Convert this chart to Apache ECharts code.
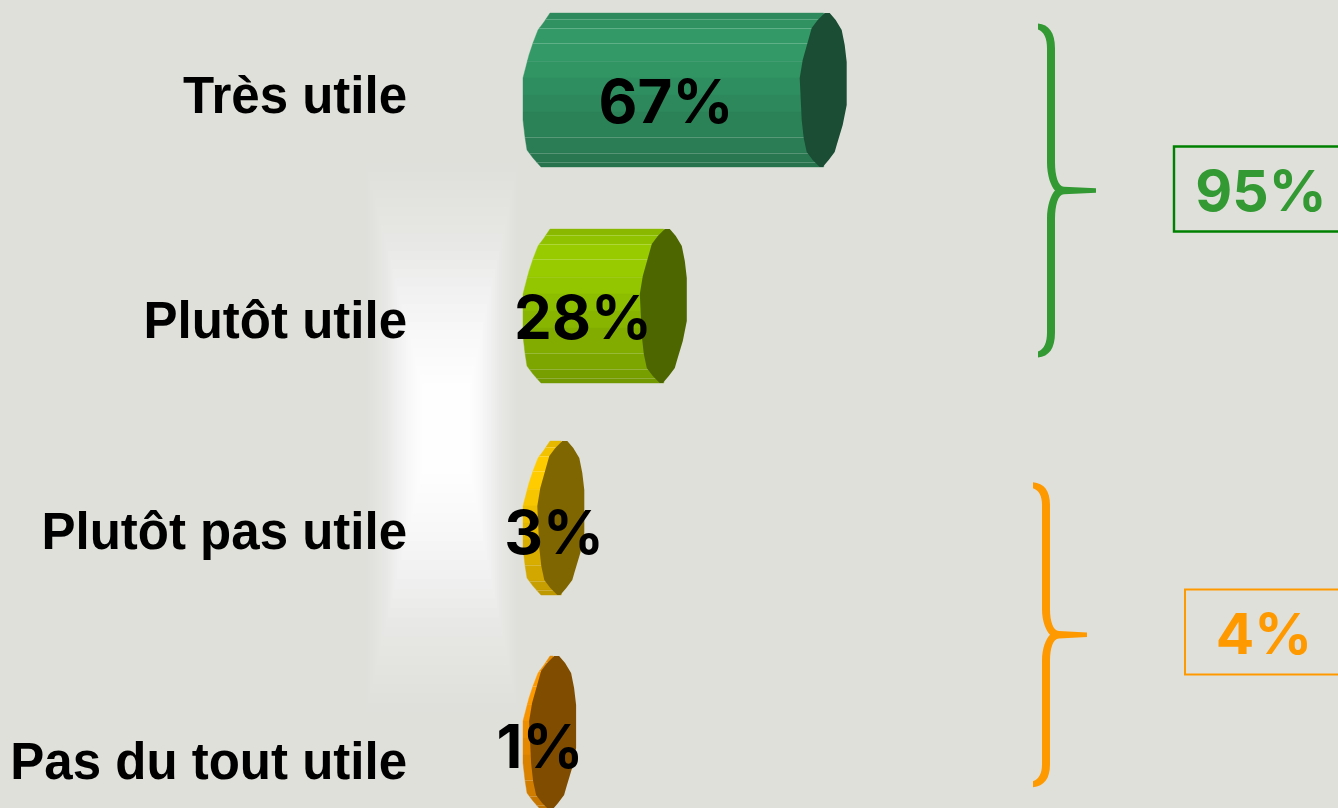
<!DOCTYPE html>
<html><head><meta charset="utf-8">
<style>html,body{margin:0;padding:0;background:#DFE0DA}#c{width:1338px;height:808px}</style>
<script src="https://cdn.jsdelivr.net/npm/echarts@6/dist/echarts.min.js"></script>
</head><body><div id="c"></div>
<script>
const categories = ['Très utile', 'Plutôt utile', 'Plutôt pas utile', 'Pas du tout utile'];
const values = [67, 28, 3, 1];
const barColors = ['#339966', '#99CC00', '#FFCC00', '#FF9900'];
const valueLabels = ['67%', '28%', '3%', '1%'];
const groupLabels = ['95%', '4%'];

const BG = '#DFE0DA';
const LABEL_FONT = '"Liberation Sans", Arial, sans-serif';
const NUM_FONT = 'Inter, sans-serif';
// hand placement (px offsets)
const barNudgeY = [0, 1.7, -0.6, 0];
const labelDx = [-158, -81, -7, -13];
const labelDy = [15, 15, 18, 17];
const catPadTop = [18, 40, 32, 64];
const capOutline = [[1,-77],[6,-77],[12,-70],[18,-60],[21,-45],[23,-28],[23,15],[19,35],[13,55],[11,62],[5,70],[-1,77],[-4,77],[-11,70],[-17,62],[-20,48],[-22,30],[-24,-12],[-21,-30],[-12,-62],[-6,-70]];
const leftEdge = [[-77,1],[-68,-5],[-60,-11],[-47,-16],[-35,-20],[-12,-26],[30,-26],[47,-24],[60,-22],[68,-16],[77,-8]];
const bands = [[-77,-71,.90,0],[-71,-62,.95,1],[-62,-47,1,1],[-47,-29,1,1],[-29,-12,.97,.4],[-12,5,.93,0],[5,22,.89,0],[22,47,.85,0],[47,63,.82,1],[63,72,.78,1],[72,77,.75,1]];

function shade(hex, f){
  const n = parseInt(hex.slice(1),16);
  const c = s => Math.round(((n>>s)&255)*f);
  return 'rgb('+c(16)+','+c(8)+','+c(0)+')';
}
function leftAt(y){
  for(let i=0;i<leftEdge.length-1;i++){
    const a=leftEdge[i],b=leftEdge[i+1];
    if(y>=a[0]&&y<=b[0]) return a[1]+(b[1]-a[1])*(y-a[0])/(b[0]-a[0]);
  }
  return 0;
}
function renderBar(params, api){
  const i = params.dataIndex;
  const v = api.value(0);
  const end = api.coord([v, i]);
  const start = api.coord([0, i]);
  const x0 = start[0], x1 = end[0], yc = end[1] + barNudgeY[i];
  const col = barColors[i];
  const children = [];
  bands.forEach(b=>{
    const pts=[[x0+leftAt(b[0]),yc+b[0]]];
    leftEdge.forEach(p=>{ if(p[0]>b[0]&&p[0]<b[1]) pts.push([x0+p[1],yc+p[0]]); });
    pts.push([x0+leftAt(b[1]),yc+b[1]],[x1,yc+b[1]],[x1,yc+b[0]]);
    const fill=shade(col,b[2]);
    children.push({type:'polygon',shape:{points:pts},style:{fill,stroke:fill,lineWidth:.4}});
  });
  bands.forEach(b=>{
    if(b[3]>0 && b[0]>-77){
      const yy=Math.round(yc+b[0])+.5;
      children.push({type:'line',shape:{x1:x0+leftAt(b[0]),y1:yy,x2:x1,y2:yy},
        style:{stroke:'rgba(255,255,255,'+(0.22*b[3])+')',lineWidth:1}});
    }
  });
  children.push({type:'polygon',shape:{points:capOutline.map(p=>[x1+p[0],yc+p[1]])},
    style:{fill:shade(col,.5)}});
  children.push({type:'text',z2:10,x:Math.round(x1+labelDx[i]),y:Math.round(yc+labelDy[i]),
    style:{text:valueLabels[i],x:0,y:0,
    align:'center',verticalAlign:'middle',fontFamily:NUM_FONT,fontWeight:'bold',fontSize:60,fill:'#000'}});
  return {type:'group',children};
}

// soft white glow behind the bars, built from nested rectangles
const glow = [];
const STEPS = 32;
const ss = t => t*t*(3-2*t);
for(let k=1;k<=STEPS;k++){
  const t=k/STEPS, prev=(k-1)/STEPS;
  const a = 1-(1-ss(t)*.995)/(1-ss(prev)*.995);
  const l=352+t*72, r=530-t*62, tp=110+t*282, b=770-t*305;
  glow.push({type:'rect',z:0,shape:{x:l,y:tp,width:r-l,height:b-tp},style:{fill:'rgba(255,255,255,'+a+')'},silent:true});
}
function brace(x,yc,h,tip){
  const top=yc-h,bot=yc+h,Y=d=>yc+d*h/167;
  return [
   'M',x-12,top,'C',x-1,top+1,x+5,Y(-158),x+5,Y(-142),'L',x+5,Y(-28),
   'C',x+5,Y(-15),x+8,yc-4,x+14,yc-3.8,'L',tip,yc-2.2,'L',tip,yc+2.2,'L',x+14,yc+3.8,
   'C',x+8,yc+4,x+5,Y(15),x+5,Y(28),'L',x+5,Y(142),'C',x+5,Y(158),x-1,bot-1,x-12,bot,
   'L',x-12,bot-6,'C',x-6,bot-8,x-3,Y(152),x-3,Y(142),'L',x-3,Y(28),
   'C',x-3,Y(15),x+1,yc+4,x+5,yc,'C',x+1,yc-4,x-3,Y(-15),x-3,Y(-28),'L',x-3,Y(-142),
   'C',x-3,Y(-152),x-6,top+8,x-12,top+6,'Z'].join(' ');
}
const GREEN='#339933', ORANGE='#FF9900';
const annotations=[
 {type:'rect',z:5,shape:{x:1174,y:146.5,width:180,height:85},style:{fill:'none',stroke:'#008000',lineWidth:2.4}},
 {type:'rect',z:5,shape:{x:1185,y:589.5,width:180,height:85},style:{fill:'none',stroke:ORANGE,lineWidth:2}},
 {type:'text',z:5,x:1261,y:194,style:{text:groupLabels[0],x:0,y:0,align:'center',verticalAlign:'middle',fontFamily:NUM_FONT,fontWeight:'bold',fontSize:57,fill:GREEN}},
 {type:'text',z:5,x:1264,y:637,style:{text:groupLabels[1],x:0,y:0,align:'center',verticalAlign:'middle',fontFamily:NUM_FONT,fontWeight:'bold',fontSize:57,fill:ORANGE}}
];

const rich={};
categories.forEach((c,i)=>{rich['r'+i]={fontFamily:LABEL_FONT,fontWeight:'bold',fontSize:51,color:'#000',padding:[catPadTop[i],0,0,0]};});

const chart=echarts.init(document.getElementById('c'),null,{renderer:'canvas'});
chart.setOption({
  animation:false,
  backgroundColor:BG,
  graphic:{elements:glow.concat(annotations)},
  grid:{left:549,width:410,top:90,height:643,containLabel:false},
  xAxis:{type:'value',min:0,max:100,show:false},
  yAxis:{type:'category',inverse:true,boundaryGap:false,data:categories,
    axisLine:{show:false},axisTick:{show:false},splitLine:{show:false},
    axisLabel:{margin:142,align:'right',interval:0,
      formatter:(v,i)=>'{r'+i+'|'+v+'}',rich}},
  series:[{type:'custom',clip:false,renderItem:renderBar,
    encode:{x:0,y:1},
    data:values.map((v,i)=>[v,i])},
   {type:'custom',coordinateSystem:'none',silent:true,
    renderItem:(p)=>p.dataIndex===0
      ?{type:'path',shape:{pathData:brace(1050,190.5,167,1096)},style:{fill:GREEN}}
      :{type:'path',shape:{pathData:brace(1045,634.7,152.5,1087)},style:{fill:ORANGE}},
    data:[[0],[1]]}]
});
</script></body></html>
